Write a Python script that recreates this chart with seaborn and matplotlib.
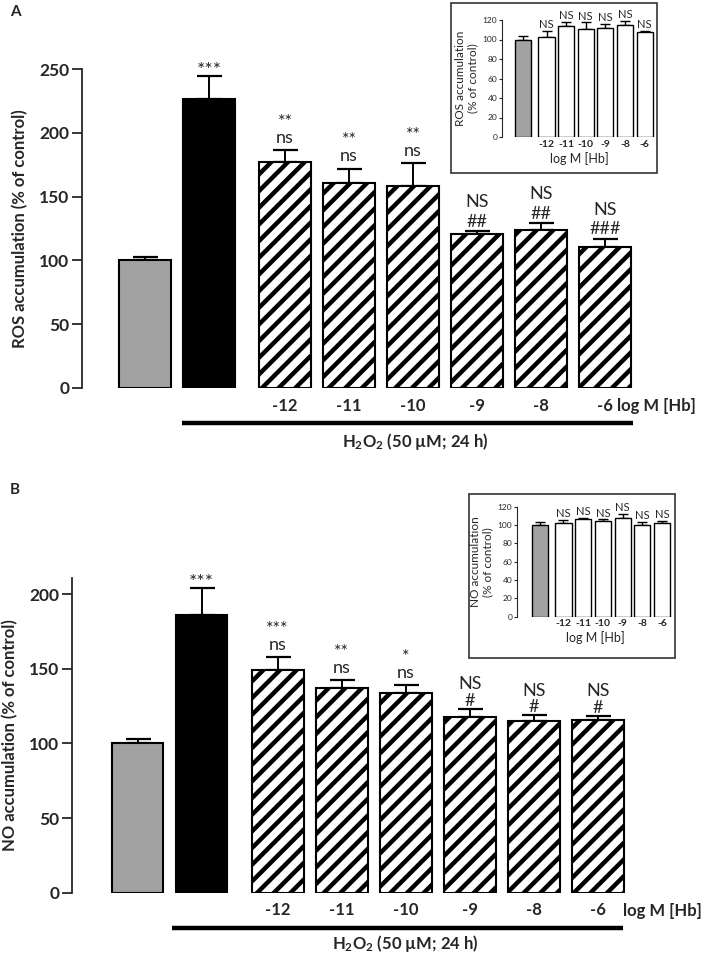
import numpy as np
import matplotlib.pyplot as plt
import seaborn as sns
from matplotlib.patches import Rectangle

# bar data (mean, SEM) -- % of control
groups = ['Control', 'H2O2', '-12', '-11', '-10', '-9', '-8', '-6']
hb_labels = ['-12', '-11', '-10', '-9', '-8', '-6']

ros_mean = [100, 226.5, 177, 161, 158, 120.7, 123.8, 110.7]
ros_sem = [3, 18, 9.5, 11, 18.5, 2.1, 5.2, 6]
ros_top = ['', '***', '**', '**', '**', 'NS', 'NS', 'NS']
ros_low = ['', '', 'ns', 'ns', 'ns', '##', '##', '###']

no_mean = [100, 186.2, 149, 137.3, 133.5, 117.7, 115.2, 115.9]
no_sem = [3, 18, 8.7, 5.2, 5.5, 5.6, 3.6, 2.7]
no_top = ['', '***', '***', '**', '*', 'NS', 'NS', 'NS']
no_low = ['', '', 'ns', 'ns', 'ns', '#', '#', '#']

# insets: Hb alone (no H2O2)
inset_groups = ['Control', '-12', '-11', '-10', '-9', '-8', '-6']
ros_inset_mean = [100, 103, 113.8, 110.4, 111.8, 115.2, 107.4]
ros_inset_sem = [4, 5.7, 4.2, 7.2, 4.1, 4.1, 1.6]
no_inset_mean = [100, 102.5, 106.2, 104, 107.6, 99.7, 102.2]
no_inset_sem = [3.3, 3, 1.8, 2.2, 4.4, 3.6, 2.5]

# layout: bar slots (gap after the two control bars)
main_pos = np.array([0, 1, 2.19, 3.19, 4.19, 5.19, 6.19, 7.19])
inset_pos = np.array([0, 1.2, 2.2, 3.2, 4.2, 5.2, 6.2])

sns.set_style('ticks')
plt.rcParams['font.family'] = ['Lato', 'DejaVu Sans']
plt.rcParams['mathtext.fontset'] = 'custom'
plt.rcParams['mathtext.rm'] = 'Lato'
plt.rcParams['mathtext.bf'] = 'Lato:bold'
plt.rcParams['hatch.linewidth'] = 3.2

W, H = 708, 957
fig = plt.figure(figsize=(W / 100, H / 100), dpi=100)


def px_axes(x0, y_bottom, x1, y_top):
    return fig.add_axes([x0 / W, 1 - y_bottom / H, (x1 - x0) / W, (y_bottom - y_top) / H])


def main_panel(ax, mean, sem, top, low, ylim, ylabel, line_x, line_y, hash_off, hash_sp):
    sns.barplot(x=main_pos, y=mean, native_scale=True, width=0.81, color='white',
                edgecolor='black', linewidth=1.5, errorbar=None, ax=ax, zorder=3)
    for i, p in enumerate(ax.patches):
        if i == 0:
            p.set_facecolor('#a2a2a2')
        elif i == 1:
            p.set_facecolor('black')
        else:
            p.set_facecolor('white')
            p.set_hatch('//')
    ax.errorbar(main_pos, mean, yerr=[np.zeros(len(mean)), sem], fmt='none',
                ecolor='black', elinewidth=1.4, capsize=9, capthick=1.6, zorder=2)
    for p, m, s, t, l in zip(main_pos, mean, sem, top, low):
        if not t:
            continue
        if not l:
            ax.annotate(t, (p, m + s), xytext=(0, -2.5), textcoords='offset points',
                        ha='center', va='bottom', fontsize=14)
        elif l == 'ns':
            ax.annotate(t + '\n' + l, (p, m + s), xytext=(0, 3), textcoords='offset points',
                        ha='center', va='bottom', multialignment='center',
                        fontsize=13, linespacing=1.0)
        else:
            ax.annotate(t + '\n' + l, (p, m + s), xytext=(0, hash_off),
                        textcoords='offset points', ha='center', va='bottom',
                        multialignment='center', fontsize=13, linespacing=hash_sp)
    ax.set_ylim(*ylim)
    ax.set_xlim(main_pos[0] - line_x[2], main_pos[0] - line_x[2] + 558 / 64)
    ax.set_xticks(main_pos[2:], hb_labels)
    ax.tick_params(axis='x', length=0, pad=7, labelsize=12)
    ax.tick_params(axis='y', length=7, width=1.3, labelsize=12.5, pad=2)
    for lab in ax.get_xticklabels() + ax.get_yticklabels():
        lab.set_fontweight('bold')
    sns.despine(ax=ax, bottom=True)
    ax.spines['left'].set_linewidth(1.3)
    ax.set_ylabel(ylabel, fontsize=12, fontweight='bold', labelpad=8)
    ax.set_xlabel('')
    ax.plot(line_x[:2], [line_y, line_y], transform=ax.get_xaxis_transform(),
            clip_on=False, color='black', lw=3.2, solid_capstyle='butt')


def inset_panel(ax, mean, sem, ylabel, xleft):
    sns.barplot(x=inset_pos, y=mean, native_scale=True, width=0.82, color='white',
                edgecolor='black', linewidth=1.0, errorbar=None, ax=ax, zorder=3)
    ax.patches[0].set_facecolor('#a2a2a2')
    ax.errorbar(inset_pos, mean, yerr=[np.zeros(len(mean)), sem], fmt='none',
                ecolor='black', elinewidth=1.0, capsize=3.5, capthick=1.0, zorder=2)
    for p, m, s in zip(inset_pos[1:], mean[1:], sem[1:]):
        ax.annotate('NS', (p, m + s), xytext=(0, 0.5), textcoords='offset points',
                    ha='center', va='bottom', fontsize=8)
    ax.set_ylim(0, 120)
    ax.set_yticks(range(0, 121, 20))
    ax.set_xlim(xleft, xleft + 7.9)
    ax.set_xticks(inset_pos[1:], hb_labels)
    ax.tick_params(axis='x', length=0, pad=2, labelsize=7.5)
    ax.tick_params(axis='y', length=2.5, width=0.8, labelsize=6, pad=1)
    for lab in ax.get_xticklabels():
        lab.set_fontweight('bold')
    sns.despine(ax=ax, bottom=True)
    ax.spines['left'].set_linewidth(0.8)
    ax.set_ylabel(ylabel, fontsize=8.5, labelpad=3, linespacing=1.1)
    ax.set_xlabel('log M [Hb]', fontsize=9, labelpad=2)
    ax.patch.set_alpha(0)


# panel A
axA = px_axes(82, 388, 640, 69)
main_panel(axA, ros_mean, ros_sem, ros_top, ros_low, (0, 250),
           'ROS accumulation (% of control)',
           ((182 - 145) / 64, (633 - 145) / 64, (145 - 82) / 64), -(423 - 388) / 319, 1.2, 1.25)
axA.set_yticks(range(0, 251, 50))
fig.text(617 / W, 1 - 406 / H, 'log M [Hb]', fontsize=12, fontweight='bold', va='center')
fig.text(415 / W, 1 - 442 / H, r'$\mathbf{H_2O_2}$ (50 µM; 24 h)', fontsize=12,
         fontweight='bold', ha='center', va='center')
fig.text(10 / W, 1 - 12 / H, 'A', fontsize=11, fontweight='bold', va='center')

# panel B
axB = px_axes(72, 892.7, 630, 577.7)
main_panel(axB, no_mean, no_sem, no_top, no_low, (0, 211),
           'NO accumulation (% of control)',
           ((172 - 137.5) / 64, (623 - 137.5) / 64, (137.5 - 72) / 64), -(928 - 892.7) / 315, 0, 1.05)
axB.set_yticks(range(0, 201, 50))
fig.text(623 / W, 1 - 911 / H, 'log M [Hb]', fontsize=12, fontweight='bold', va='center')
fig.text(405 / W, 1 - 943 / H, r'$\mathbf{H_2O_2}$ (50 µM; 24 h)', fontsize=12,
         fontweight='bold', ha='center', va='center')
fig.text(10 / W, 1 - 490 / H, 'B', fontsize=11, fontweight='bold', va='center')

# insets
fig.patches.append(Rectangle((451 / W, 1 - 173 / H), 206 / W, 170 / H, transform=fig.transFigure,
                             fill=False, edgecolor='#333333', lw=1.2))
axIA = px_axes(502, 137, 657, 20)
inset_panel(axIA, ros_inset_mean, ros_inset_sem, 'ROS accumulation\n(% of control)', -1.07)

fig.patches.append(Rectangle((469 / W, 1 - 658 / H), 206 / W, 164 / H, transform=fig.transFigure,
                             fill=False, edgecolor='#333333', lw=1.2))
axIB = px_axes(517, 616.7, 673, 506.7)
inset_panel(axIB, no_inset_mean, no_inset_sem, 'NO accumulation\n(% of control)', -1.15)

fig.savefig('out.png', dpi=100)
